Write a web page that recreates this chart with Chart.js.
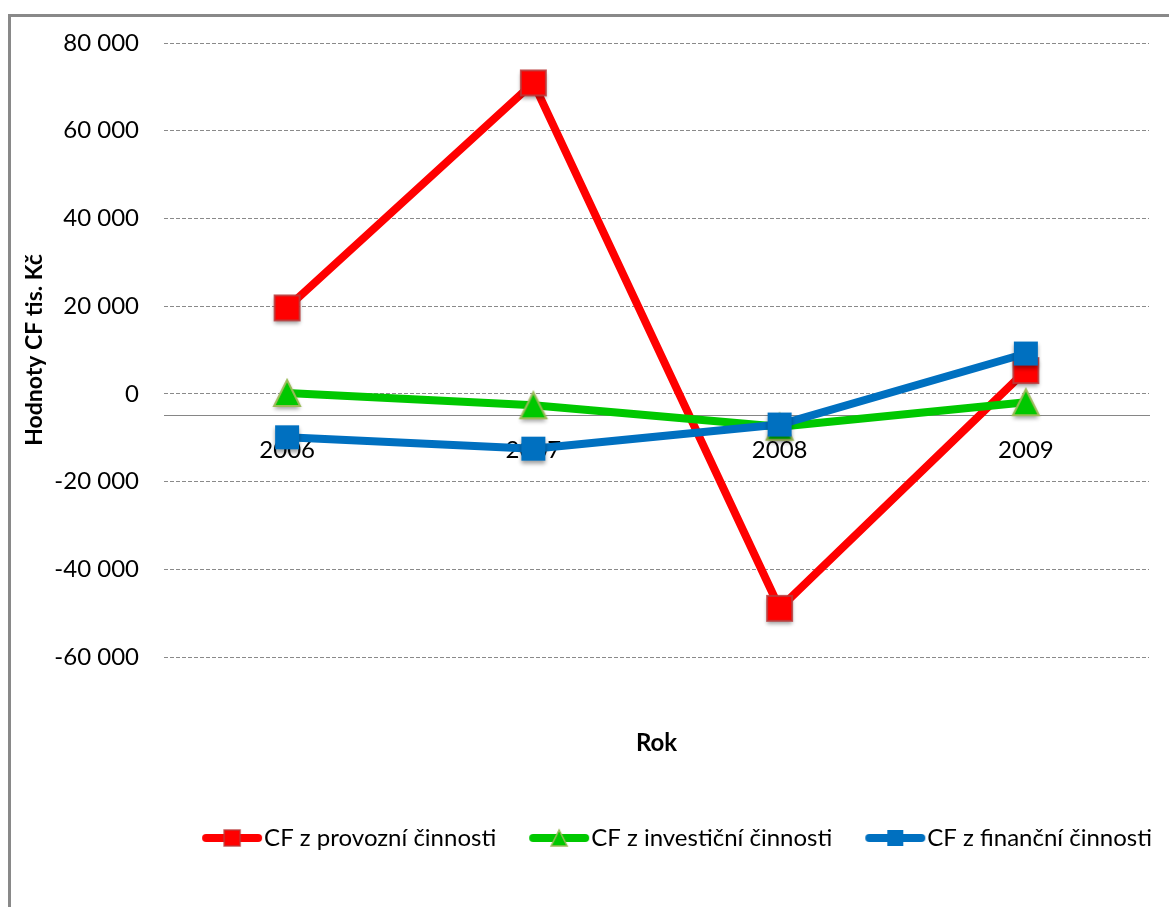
<!DOCTYPE html>
<html>
<head>
<meta charset="utf-8">
<script src="https://cdn.jsdelivr.net/npm/chart.js@4.4.1/dist/chart.umd.min.js"></script>
<style>
  html, body { margin: 0; padding: 0; background: #ffffff; }
  canvas { display: block; }
</style>
</head>
<body>
<canvas id="cf" width="1169" height="907"></canvas>
<script>
// Peněžní toky (tis. Kč) podle roku
const years = ['2006', '2007', '2008', '2009'];
const provozni = [19600, 70900, -48900, 5300];
const investicni = [200, -2600, -7500, -1900];
const financni = [-9900, -12500, -7000, 9200];
const seriesNames = ['CF z provozní činnosti', 'CF z investiční činnosti', 'CF z finanční činnosti'];
const yTicks = [-60000, -40000, -20000, 0, 20000, 40000, 60000, 80000];
const axisCross = -5000;

const FONT = 'Lato, "Liberation Sans", sans-serif';

function formatThousands(v) {
  if (v === 0) return '0';
  const sign = v < 0 ? '-' : '';
  const a = Math.abs(v);
  return sign + Math.floor(a / 1000) + ' ' + String(a % 1000).padStart(3, '0');
}

// marker shapes rendered to small canvases (with a soft drop shadow)
function makeMarker(shape, size, fill, stroke, strokeW, shadow) {
  const pad = 8;
  const c = document.createElement('canvas');
  c.width = size + pad * 2;
  c.height = size + pad * 2;
  const ctx = c.getContext('2d');
  if (shadow) {
    ctx.shadowColor = 'rgba(0,0,0,0.38)';
    ctx.shadowBlur = 4;
    ctx.shadowOffsetY = 3;
  }
  drawShape(ctx, shape, pad + size / 2, pad + size / 2, size, fill, stroke, strokeW);
  return c;
}

function drawShape(ctx, shape, cx, cy, size, fill, stroke, strokeW) {
  const h = size / 2;
  ctx.beginPath();
  if (shape === 'square') {
    ctx.rect(cx - h, cy - h, size, size);
  } else {
    ctx.moveTo(cx, cy - h);
    ctx.lineTo(cx + h, cy + h);
    ctx.lineTo(cx - h, cy + h);
    ctx.closePath();
  }
  ctx.fillStyle = fill;
  ctx.fill();
  ctx.shadowColor = 'transparent';
  if (strokeW > 0) {
    ctx.lineWidth = strokeW;
    ctx.strokeStyle = stroke;
    ctx.stroke();
  }
}

// legend symbol: short line with the marker in its middle
const LEG_BOX = 78;
function makeLegendSymbol(shape, lineColor, fill, stroke, strokeW, mSize) {
  const c = document.createElement('canvas');
  c.width = 104;
  c.height = 30;
  const ctx = c.getContext('2d');
  const x0 = 41, x1 = 101, cy = 15;
  ctx.lineCap = 'round';
  ctx.lineWidth = 8;
  ctx.strokeStyle = lineColor;
  ctx.beginPath();
  ctx.moveTo(x0 + 4, cy);
  ctx.lineTo(x1 - 4, cy);
  ctx.stroke();
  drawShape(ctx, shape, (x0 + x1) / 2, cy, mSize, fill, stroke, strokeW);
  return c;
}

const RED = '#ff0000', GREEN = '#00c800', BLUE = '#0070c0';

const markers = [
  makeMarker('square', 25, RED, 'rgba(185,60,60,0.85)', 2, true),
  makeMarker('triangle', 26, GREEN, '#9bbb59', 2, true),
  makeMarker('square', 24, BLUE, BLUE, 0, true)
];
const legendSymbols = [
  makeLegendSymbol('square', RED, RED, 'rgba(185,60,60,0.85)', 1.5, 16),
  makeLegendSymbol('triangle', GREEN, GREEN, '#9bbb59', 1.5, 16),
  makeLegendSymbol('square', BLUE, BLUE, BLUE, 0, 16)
];
const lineColors = [RED, GREEN, BLUE];

const framePlugin = {
  id: 'frame',
  beforeDraw(chart) {
    const ctx = chart.ctx;
    ctx.save();
    ctx.fillStyle = '#ffffff';
    ctx.fillRect(0, 0, chart.width, chart.height);
    ctx.fillStyle = '#898989';
    ctx.fillRect(8, 14, 3, chart.height - 14);
    ctx.fillRect(8, 14, chart.width - 8, 3);
    ctx.restore();
  }
};

function makeDataset(i, data, order) {
  return {
    label: seriesNames[i],
    data: data,
    borderColor: lineColors[i],
    backgroundColor: lineColors[i],
    borderWidth: 8,
    borderJoinStyle: 'round',
    borderCapStyle: 'round',
    tension: 0,
    fill: false,
    pointStyle: markers[i],
    pointRadius: 12,
    pointHoverRadius: 12,
    order: order
  };
}

new Chart(document.getElementById('cf'), {
  type: 'line',
  data: {
    labels: years,
    datasets: [
      makeDataset(0, provozni, 3),
      makeDataset(1, investicni, 2),
      makeDataset(2, financni, 1)
    ]
  },
  plugins: [framePlugin],
  options: {
    responsive: false,
    animation: false,
    events: [],
    layout: { padding: { top: 43, left: 10, right: 12, bottom: 47 } },
    scales: {
      x: {
        type: 'category',
        offset: true,
        position: { y: axisCross },
        z: 1,
        grid: { display: false, drawTicks: false },
        border: { display: true, color: '#868686', width: 1 },
        ticks: {
          font: { family: FONT, size: 24 },
          color: '#000000',
          padding: 20,
          maxRotation: 0,
          autoSkip: false
        }
      },
      y: {
        min: yTicks[0],
        max: yTicks[yTicks.length - 1],
        afterBuildTicks(scale) {
          scale.ticks = yTicks.map(v => ({ value: v }));
        },
        afterFit(scale) { scale.width = 154; },
        grid: { color: '#8a8a8a', lineWidth: 1, drawTicks: false },
        border: { display: false, dash: [4, 2] },
        ticks: {
          font: { family: FONT, size: 24 },
          color: '#000000',
          padding: 25,
          callback: v => formatThousands(v)
        },
        title: {
          display: true,
          text: 'Hodnoty CF tis. Kč',
          color: '#000000',
          font: { family: FONT, size: 23, weight: 'bold' },
          padding: { top: 11, bottom: 0 }
        }
      }
    },
    plugins: {
      tooltip: { enabled: false },
      title: {
        display: true,
        text: 'Rok',
        position: 'bottom',
        fullSize: false,
        weight: 500,
        color: '#000000',
        font: { family: FONT, size: 24, weight: 'bold' },
        padding: { top: 71.6, bottom: 63.6 }
      },
      legend: {
        display: true,
        position: 'bottom',
        fullSize: true,
        align: 'end',
        labels: {
          usePointStyle: true,
          pointStyleWidth: LEG_BOX,
          padding: 5,
          color: '#000000',
          font: { family: FONT, size: 24 },
          generateLabels(chart) {
            return chart.data.datasets.map((ds, i) => ({
              text: ds.label,
              pointStyle: legendSymbols[i],
              fillStyle: lineColors[i],
              strokeStyle: lineColors[i],
              lineWidth: 0,
              hidden: false,
              fontColor: '#000000',
              datasetIndex: i
            }));
          }
        }
      }
    }
  }
});
</script>
</body>
</html>
